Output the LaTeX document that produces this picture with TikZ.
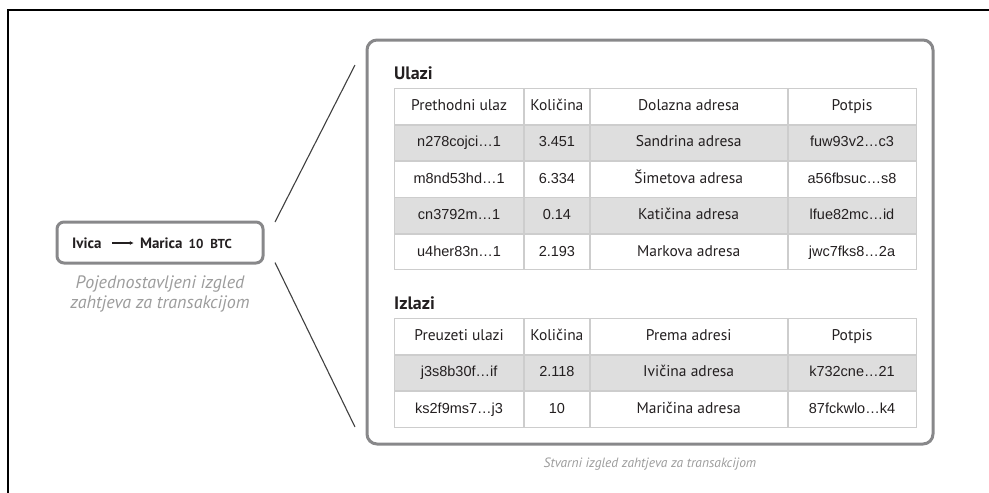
\documentclass[tikz,border=0pt]{standalone}
\usepackage{fontspec}
\setmainfont{PT Sans}
\newfontfamily\codefont{Liberation Sans}
\usetikzlibrary{matrix,positioning,arrows.meta}

\definecolor{boxgray}{HTML}{88888A}
\definecolor{gridgray}{HTML}{CDCDCD}
\definecolor{rowgray}{HTML}{DEDEDE}
\definecolor{inkgray}{HTML}{231F20}
\definecolor{notegray}{HTML}{9C9C9C}

\tikzset{
    panel/.style={draw=boxgray, line width=3pt, rounded corners=10pt},
    cell/.style={draw=gridgray, line width=0.8pt, outer sep=0pt, inner sep=0pt,
        minimum height=35.6pt, text height=11pt, text depth=3pt, text=inkgray,
        font=\fontsize{15.5}{15.5}\selectfont},
    codecell/.style={font=\codefont\fontsize{14.5}{15}\selectfont},
    txtable/.style={matrix of nodes, inner sep=0pt, column sep=0pt, row sep=0pt,
        nodes={cell},
        column 1/.style={nodes={minimum width=129pt, codecell}},
        column 2/.style={nodes={minimum width=65pt, codecell}},
        column 3/.style={nodes={minimum width=197pt}},
        column 4/.style={nodes={minimum width=128pt, codecell}},
        row 1/.style={nodes={font=\fontsize{15.5}{15.5}\selectfont}},
        every even row/.style={nodes={fill=rowgray}}},
    sectlabel/.style={inner sep=0pt, text=inkgray, font=\bfseries\fontsize{18}{18}\selectfont},
    reqtext/.style={inner sep=0pt, text=inkgray, font=\bfseries\fontsize{15}{15}\selectfont},
    note/.style={text=notegray, align=center, font=\itshape\fontsize{18}{20}\selectfont},
    zoomline/.style={draw=black!75, line width=1.1pt}
}

\begin{document}
\begin{tikzpicture}[x=1pt, y=-1pt]
    \useasboundingbox (0,0) rectangle (989,493);
    \draw[line width=2pt] (8,493) -- (8,10) -- (989,10);

    % simplified request
    \node[panel, rounded corners=7pt, minimum width=206pt, minimum height=41pt] (req) at (160,242.5) {};
    \node[reqtext, anchor=west] (ivica) at (72,243) {Ivica};
    \node[reqtext, right=38pt of ivica] (marica) {Marica\hspace{6pt}{\fontsize{13}{13}\selectfont 10\hspace{7pt}BTC}};
    \draw[-{Latex[length=4pt, width=4pt]}, line width=1.2pt, inkgray, shorten <=10pt, shorten >=6pt] (ivica.east) -- (marica.west);
    \node[note, below=8pt of req] (reqnote) {Pojednostavljeni izgled\\zahtjeva za transakcijom};

    % real request
    \node[panel, minimum width=566pt, minimum height=404pt] (stvarni) at (650,242) {};
    \node[note, font=\itshape\fontsize{13.5}{14}\selectfont] (stvarninote) at (650,464) {Stvarni izgled zahtjeva za transakcijom};

    \draw[zoomline] ([xshift=10.5pt, yshift=-1.5pt]req.north east) -- ([xshift=-10.5pt, yshift=-26.5pt]stvarni.north west);
    \draw[zoomline] ([xshift=10.5pt, yshift=2pt]req.south east) -- ([xshift=-10.5pt, yshift=18.5pt]stvarni.south west);

    \matrix[txtable, anchor=north west] (ulazi) at (394,88) {
        Prethodni ulaz & Količina & Dolazna adresa & Potpis \\
        n278cojci…1 & 3.451 & Sandrina adresa & fuw93v2…c3 \\
        m8nd53hd…1 & 6.334 & Šimetova adresa & a56fbsuc…s8 \\
        cn3792m…1 & 0.14 & Katičina adresa & lfue82mc…id \\
        u4her83n…1 & 2.193 & Markova adresa & jwc7fks8…2a \\
    };
    \node[sectlabel, above right=8pt and 0pt of ulazi.north west] (ulazititle) {Ulazi};

    \matrix[txtable, anchor=north west] (izlazi) at (394,318) {
        Preuzeti ulazi & Količina & Prema adresi & Potpis \\
        j3s8b30f…if & 2.118 & Ivičina adresa & k732cne…21 \\
        ks2f9ms7…j3 & 10 & Maričina adresa & 87fckwlo…k4 \\
    };
    \node[sectlabel, above right=8pt and 0pt of izlazi.north west] (izlazititle) {Izlazi};
\end{tikzpicture}
\end{document}
